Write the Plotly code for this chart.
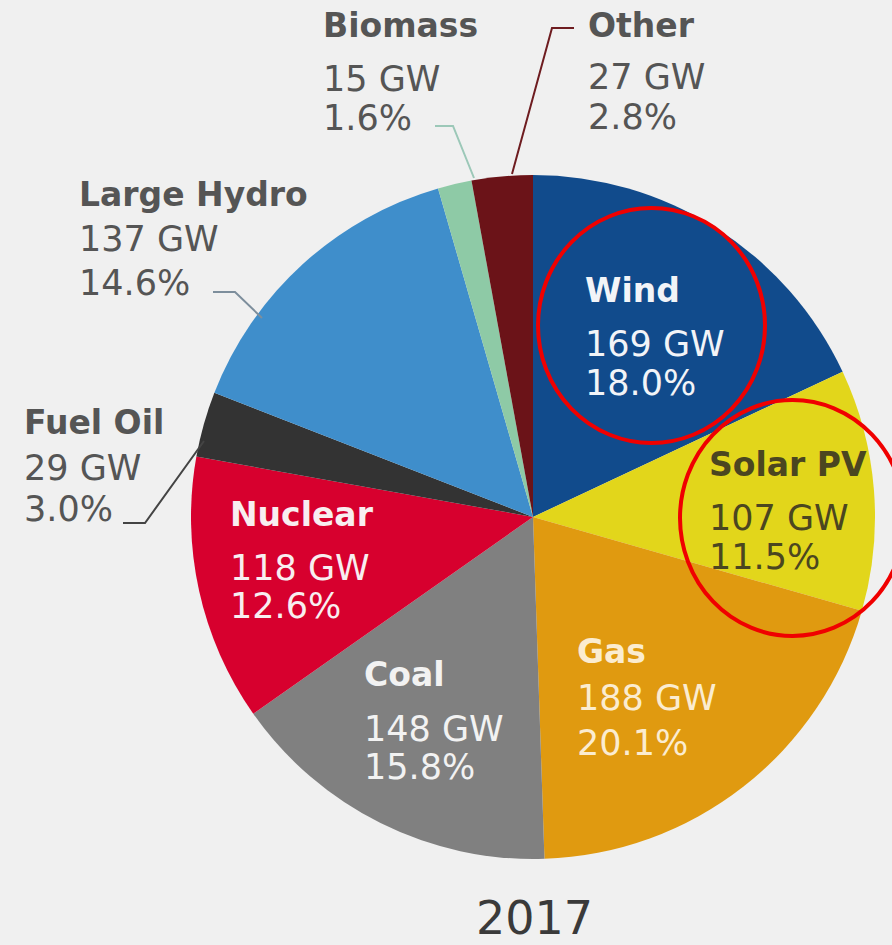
import plotly.graph_objects as go

# 2017 installed capacity by source
sources = ["Wind", "Solar PV", "Gas", "Coal", "Nuclear", "Fuel Oil", "Large Hydro", "Biomass", "Other"]
capacity_gw = [169, 107, 188, 148, 118, 29, 137, 15, 27]
share_pct = [18.0, 11.5, 20.1, 15.8, 12.6, 3.0, 14.6, 1.6, 2.8]
colors = ["#114b8c", "#e2d61b", "#e09a10", "#808080", "#d7002e", "#333333", "#3f8ecb", "#8ecaa6", "#6b1318"]
year_label = "2017"

W, H = 892, 945
FONT = "DejaVu Sans"

# label placement (left x, centre y of each of the three lines), text colour
label_pos = {
    "Wind": (583, [290, 344, 383], "#f2f4f8"),
    "Solar PV": (707, [464, 518, 557], "#4b4620"),
    "Gas": (575, [651, 698, 743], "#fbecd0"),
    "Coal": (362, [674, 729, 767], "#f2f2f2"),
    "Nuclear": (228, [514, 568, 606], "#f8eef0"),
    "Fuel Oil": (22, [422, 468, 509], "#555555"),
    "Large Hydro": (77, [194, 239, 283], "#555555"),
    "Biomass": (321, [26, 79, 118], "#555555"),
    "Other": (586, [26, 77, 117], "#555555"),
}

# leader lines for the small outside labels
leaders = {
    "Other": ([512, 552, 574], [174, 28, 28], "#6e1c20"),
    "Biomass": ([474, 453, 435], [178, 126, 126], "#9cc8b8"),
    "Large Hydro": ([213, 235, 262], [292, 292, 318], "#7d8e9c"),
    "Fuel Oil": ([123, 145, 204], [523, 523, 441], "#444444"),
}

fig = go.Figure()

fig.add_trace(go.Pie(
    labels=sources,
    values=capacity_gw,
    marker=dict(colors=colors, line=dict(width=0)),
    sort=False,
    direction="clockwise",
    rotation=0,
    textinfo="none",
    hoverinfo="label+value+percent",
    showlegend=False,
    domain=dict(x=[191 / W, 875 / W], y=[1 - 862 / H, 1 - 172 / H]),
))

px = lambda x: x / W
py = lambda y: 1 - y / H

annotations = []
for name, gw, pct in zip(sources, capacity_gw, share_pct):
    x0, ys, col = label_pos[name]
    lines = [(f"<b>{name}</b>", 33), (f"{gw} GW", 35), (f"{pct:.1f}%", 35)]
    for (txt, size), y in zip(lines, ys):
        annotations.append(dict(
            x=px(x0), y=py(y), xref="paper", yref="paper",
            xanchor="left", yanchor="middle", showarrow=False,
            text=txt, font=dict(family=FONT, size=size, color=col),
        ))

annotations.append(dict(
    x=px(534), y=py(918), xref="paper", yref="paper",
    xanchor="center", yanchor="middle", showarrow=False,
    text=year_label, font=dict(family=FONT, size=46, color="#3a3a3a"),
))

shapes = []
for name, (xs, ys, col) in leaders.items():
    path = "M " + " L ".join(f"{px(a)},{py(b)}" for a, b in zip(xs, ys))
    shapes.append(dict(type="path", xref="paper", yref="paper", path=path,
                       line=dict(color=col, width=2)))

# red highlight circles
shapes.append(dict(type="circle", xref="paper", yref="paper",
                   x0=px(538), x1=px(765), y0=py(443), y1=py(208),
                   line=dict(color="#f00000", width=4)))
shapes.append(dict(type="circle", xref="paper", yref="paper",
                   x0=px(680), x1=px(905), y0=py(636), y1=py(400),
                   line=dict(color="#f00000", width=4)))

fig.update_layout(
    width=W, height=H,
    margin=dict(l=0, r=0, t=0, b=0),
    paper_bgcolor="#f0f0f0",
    plot_bgcolor="#f0f0f0",
    annotations=annotations,
    shapes=shapes,
)

fig.write_html("out.html", config=dict(displayModeBar=False),
               post_script="document.body.style.margin='0';")
